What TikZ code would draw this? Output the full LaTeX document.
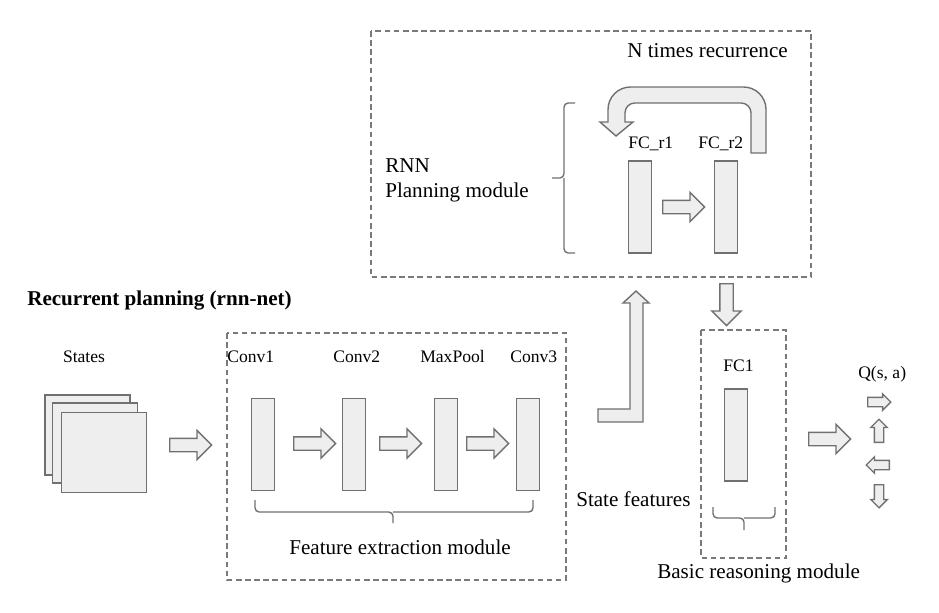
\documentclass[tikz,border=0pt]{standalone}
\usepackage{fontspec}
\setmainfont{Liberation Serif}
\usetikzlibrary{shapes.arrows}

\definecolor{barfill}{HTML}{EEEEEE}
\definecolor{bardraw}{HTML}{707070}
\definecolor{dashgray}{HTML}{7A7A7A}

\tikzset{
  bar/.style={draw=bardraw, fill=barfill, line width=1pt, minimum width=0.575cm, minimum height=2.3cm, inner sep=0pt},
  statebox/.style={draw=bardraw, fill=barfill, line width=1pt, minimum width=2.125cm, minimum height=2cm, inner sep=0pt},
  fatarrow/.style={single arrow, draw=bardraw, fill=barfill, line width=1pt, inner sep=0.15cm, single arrow head extend=0.2cm, minimum height=1.05cm, anchor=tail},
  tinyarrow/.style={single arrow, draw=bardraw, fill=barfill, line width=0.9pt, inner sep=0.1cm, single arrow head extend=0.09cm, minimum height=0.58cm, anchor=tail},
  module/.style={draw=dashgray, line width=0.9pt, dash pattern=on 4pt off 2.5pt},
  brace/.style={draw=bardraw, line width=1pt, rounded corners=3pt},
  small/.style={font=\fontsize{12.5}{15}\selectfont, inner sep=0pt},
  big/.style={font=\fontsize{15}{18}\selectfont, inner sep=0pt},
}

\begin{document}
\begin{tikzpicture}[x=0.025cm, y=-0.025cm]
\useasboundingbox (0,0) rectangle (939,612);

% title
\node[big, anchor=base west, font=\fontsize{15}{18}\selectfont\bfseries] (title) at (27,305) {Recurrent planning (rnn-net)};

% input states
\node[small, anchor=base] (states) at (84,362) {States};
\foreach \n/\x/\y in {s1/87.5/435, s2/95/443, s3/104/452.5}
  \node[statebox] (\n) at (\x,\y) {};
\node[fatarrow] (a0) at (169,445) {};

% feature extraction module
\draw[module] (227,333) rectangle (566,580);
\foreach \n/\x/\t in {l1/227/Conv1, l2/333/Conv2, l3/420/MaxPool, l4/510/Conv3}
  \node[small, anchor=base west] (\n) at (\x,362) {\t};
\foreach \n/\x in {c1/263, c2/354, c3/446, c4/528}
  \node[bar] (\n) at (\x,444.5) {};
\foreach \n/\x in {a1/293, a2/379, a3/466}
  \node[fatarrow] (\n) at (\x,443.5) {};
\draw[brace] (255,500) -- (255,512) -- (393,512) -- (393,523);
\draw[brace] (393,512) -- (533,512) -- (533,500);
\node[big, anchor=base] (fem) at (400,554) {Feature extraction module};

% state features go up to the planning module
\draw[bardraw, fill=barfill, line width=1pt] (598,409) -- (630,409) -- (630,303) -- (623,303) -- (636,291) -- (649,303) -- (643,303) -- (643,422) -- (598,422) -- cycle;
\node[big, anchor=base west] (sf) at (576,506) {State features};

% RNN planning module
\draw[module] (371,31) rectangle (811,277);
\node[big, anchor=base west] (ntimes) at (627,57) {N times recurrence};
\node[big, anchor=base west] (rnn) at (385,172) {RNN};
\node[big, anchor=base west] (pm) at (385,197) {Planning module};
\draw[brace] (575,103) -- (564,103) -- (564,178) -- (552,178);
\draw[brace] (564,178) -- (564,253) -- (575,253);
\node[small, anchor=base west] (lr1) at (628,148) {FC\_r1};
\node[small, anchor=base west] (lr2) at (698,148) {FC\_r2};
\node[bar] (r1) at (640,207) {};
\node[bar] (r2) at (726,207) {};
\node[fatarrow] (ar) at (662,207) {};
\draw[bardraw, fill=barfill, line width=1pt] (751,153) -- (766,153) [rounded corners=16pt] -- (766,87) -- (608,87) [sharp corners] -- (608,122) -- (600,122) -- (616,136) -- (633,122) -- (625,122) [rounded corners=7pt] -- (625,103) -- (751,103) [sharp corners] -- (751,153) -- cycle;

% basic reasoning module
\node[fatarrow, rotate=-90] (ad) at (726.5,283) {};
\draw[module] (701,330) rectangle (786,558);
\node[small, anchor=base west] (lf) at (723,371) {FC1};
\node[bar] (f1) at (736,435) {};
\draw[brace] (713,507) -- (713,518) -- (744,518) -- (744,530);
\draw[brace] (744,518) -- (775,518) -- (775,507);
\node[big, anchor=base west] (brm) at (657,578) {Basic reasoning module};

% Q values
\node[fatarrow] (aq) at (808,439) {};
\node[small, anchor=base west] (q) at (858,378) {Q(s, a)};
\node[tinyarrow] (q1) at (867,402) {};
\node[tinyarrow, rotate=90] (q2) at (879,443) {};
\node[tinyarrow, rotate=180] (q3) at (890,465) {};
\node[tinyarrow, rotate=-90] (q4) at (879,484) {};
\end{tikzpicture}
\end{document}
